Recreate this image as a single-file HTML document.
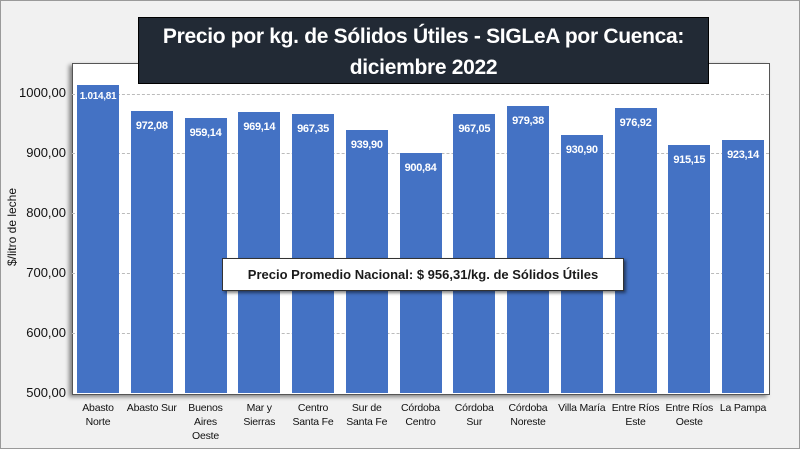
<!DOCTYPE html>
<html><head><meta charset="utf-8"><style>
body{margin:0;width:800px;height:449px;overflow:hidden;background:#fff;font-family:"Liberation Sans",sans-serif;}
#pg{position:absolute;left:0;top:0;width:798px;height:447px;background:#f1f1f1;border:1px solid #9a9a9a;}
#plot{position:absolute;left:72px;top:63px;width:696px;height:330px;background:#fff;border:1px solid #555;box-shadow:-3px 2px 4px rgba(0,0,0,.45);}
.g{position:absolute;left:72px;width:697px;border-top:1px dashed #bbb;}
.yl{position:absolute;left:0;width:66px;text-align:right;font-size:13px;color:#111;}
.bar{position:absolute;width:42px;background:#4472c4;}
.v{position:absolute;width:54px;text-align:center;color:#fff;font-weight:bold;font-size:11px;letter-spacing:-0.3px;}
.c{position:absolute;top:401px;width:60px;text-align:center;font-size:10.5px;line-height:14px;color:#111;letter-spacing:-0.2px;}
</style></head><body><div id="pg"></div>
<div id="plot"></div>
<div class="g" style="top:94px"></div>
<div class="g" style="top:153px"></div>
<div class="g" style="top:213px"></div>
<div class="g" style="top:273px"></div>
<div class="g" style="top:333px"></div>
<div class="yl" style="top:85px">1000,00</div>
<div class="yl" style="top:145px">900,00</div>
<div class="yl" style="top:205px">800,00</div>
<div class="yl" style="top:265px">700,00</div>
<div class="yl" style="top:325px">600,00</div>
<div class="yl" style="top:385px">500,00</div>
<div style="position:absolute;left:-38px;top:220px;width:100px;transform:rotate(-90deg);font-size:12px;text-align:center;color:#111;">$/litro de leche</div>
<div id="bars"></div>
<div style="position:absolute;left:138px;top:17px;width:571px;height:67px;background:#222a35;border:1px solid #000;color:#fff;font-weight:bold;font-size:21px;line-height:31px;text-align:center;padding-top:3px;box-sizing:border-box;white-space:nowrap;letter-spacing:-0.3px;">Precio por kg. de Sólidos Útiles - SIGLeA por Cuenca:<br>diciembre 2022</div>
<div style="position:absolute;left:222px;top:258px;width:402px;height:33px;background:#fff;border:1px solid #333;box-shadow:2px 2px 3px rgba(0,0,0,.5);box-sizing:border-box;font-weight:bold;font-size:13px;line-height:31px;text-align:center;color:#1a1a1a;white-space:nowrap;">Precio Promedio Nacional: $ 956,31/kg. de Sólidos Útiles</div>
<script>
var d=[["1.014,81",1014.81,"Abasto<br>Norte"],["972,08",972.08,"Abasto Sur"],["959,14",959.14,"Buenos<br>Aires<br>Oeste"],["969,14",969.14,"Mar y<br>Sierras"],["967,35",967.35,"Centro<br>Santa Fe"],["939,90",939.90,"Sur de<br>Santa Fe"],["900,84",900.84,"Córdoba<br>Centro"],["967,05",967.05,"Córdoba<br>Sur"],["979,38",979.38,"Córdoba<br>Noreste"],["930,90",930.90,"Villa María"],["976,92",976.92,"Entre Ríos<br>Este"],["915,15",915.15,"Entre Ríos<br>Oeste"],["923,14",923.14,"La Pampa"]];
var h="";d.forEach(function(a,i){var x=77+i*53.75,t=393-(a[1]-500)*0.598,cx=x+21;
h+='<div class="bar" style="left:'+x+'px;top:'+t+'px;height:'+(393-t)+'px"></div>';
h+='<div class="v" style="left:'+(cx-27)+'px;top:'+(t+(i==0?6:9))+'px;'+(i==0?'font-size:10px;':'')+'">'+a[0]+'</div>';
h+='<div class="c" style="left:'+(cx-30)+'px">'+a[2]+'</div>';});
document.getElementById("bars").innerHTML=h;
</script>
</body></html>
